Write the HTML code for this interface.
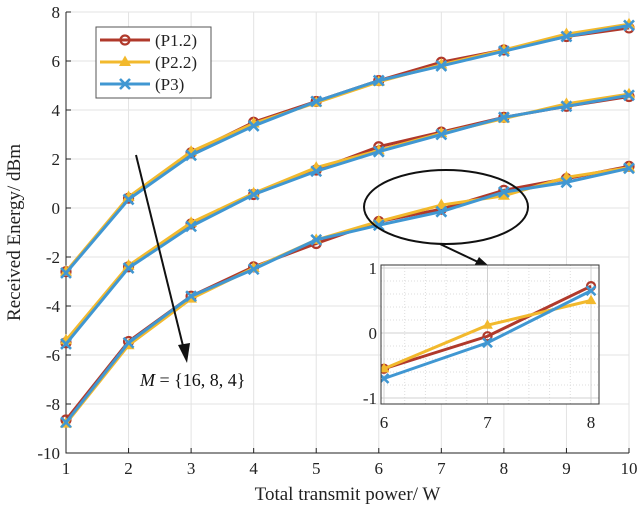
<!DOCTYPE html>
<html><head><meta charset="utf-8"><style>
body{margin:0;background:#fff}
svg{display:block;font-family:"Liberation Serif",serif}
</style></head><body>
<svg id="chart" width="640" height="512" viewBox="0 0 640 512"></svg>
<script>
const xs=[1,2,3,4,5,6,7,8,9,10];
const p12_m16=[-2.6,0.4,2.25,3.5,4.35,5.2,5.95,6.45,7.0,7.35];
const p22_m16=[-2.6,0.45,2.3,3.45,4.3,5.15,5.85,6.45,7.1,7.5];
const p3_m16=[-2.65,0.35,2.15,3.35,4.35,5.2,5.8,6.4,7.0,7.45];
const p12_m8=[-5.5,-2.4,-0.65,0.55,1.55,2.5,3.1,3.7,4.15,4.55];
const p22_m8=[-5.4,-2.35,-0.6,0.6,1.65,2.35,3.05,3.65,4.25,4.65];
const p3_m8=[-5.55,-2.45,-0.75,0.55,1.5,2.3,3.0,3.7,4.15,4.6];
const p12_m4=[-8.65,-5.45,-3.6,-2.4,-1.45,-0.55,-0.05,0.72,1.2,1.7];
const p22_m4=[-8.8,-5.6,-3.7,-2.45,-1.3,-0.55,0.12,0.5,1.25,1.65];
const p3_m4=[-8.75,-5.5,-3.6,-2.5,-1.3,-0.7,-0.15,0.65,1.05,1.62];
const yTicks=[-10,-8,-6,-4,-2,0,2,4,6,8];
const insetX=[6,7,8];
const insetYTicks=[-1,0,1];
const series=[
 {name:'p1-2',label:'(P1.2)',color:'#b0392b',marker:'o',data:[p12_m16,p12_m8,p12_m4]},
 {name:'p2-2',label:'(P2.2)',color:'#f2b92d',marker:'t',data:[p22_m16,p22_m8,p22_m4]},
 {name:'p3',label:'(P3)',color:'#4097d2',marker:'x',data:[p3_m16,p3_m8,p3_m4]}
];
const NS='http://www.w3.org/2000/svg';
const svg=document.getElementById('chart');
function el(t,a,p){const e=document.createElementNS(NS,t);for(const k in a)e.setAttribute(k,a[k]);(p||svg).appendChild(e);return e;}
const L=66,R=629,T=12,B=453;
const sx=v=>L+(v-1)/9*(R-L);
const sy=v=>B-(v+10)/18*(B-T);
for(const x of xs){const g=el('line',{x1:sx(x),x2:sx(x),y1:T,y2:B,stroke:'#e3e3e3','stroke-width':1});
}
for(const y of yTicks){const g=el('line',{x1:L,x2:R,y1:sy(y),y2:sy(y),stroke:'#e3e3e3','stroke-width':1});
}
const ax=el('path',{d:`M${L},${T}V${B}H${R}`,fill:'none',stroke:'#222','stroke-width':1});

for(const x of xs){el('line',{x1:sx(x),x2:sx(x),y1:B,y2:B-5,stroke:'#222'});
const t=el('text',{x:sx(x),y:B+21,'text-anchor':'middle','font-size':17,fill:'#222'});t.textContent=x;
}
for(const y of yTicks){el('line',{x1:L,x2:L+5,y1:sy(y),y2:sy(y),stroke:'#222'});
const t=el('text',{x:L-6,y:sy(y)+6,'text-anchor':'end','font-size':17,fill:'#222'});t.textContent=y;
}
const xt=el('text',{x:(L+R)/2,y:500,'text-anchor':'middle','font-size':19,fill:'#222'});xt.textContent='Total transmit power/ W';

const yt=el('text',{x:0,y:0,transform:`translate(20,${(T+B)/2}) rotate(-90)`,'text-anchor':'middle','font-size':19,fill:'#222'});yt.textContent='Received Energy/ dBm';

function marker(g,type,x,y,c,s){
 if(type==='o')el('circle',{cx:x,cy:y,r:s*0.9,fill:'none',stroke:c,'stroke-width':2.2},g);
 else if(type==='t')el('polygon',{points:`${x},${y-s*1.3} ${x-s*1.2},${y+s*0.8} ${x+s*1.2},${y+s*0.8}`,fill:c},g);
 else el('path',{d:`M${x-s},${y-s}L${x+s},${y+s}M${x-s},${y+s}L${x+s},${y-s}`,stroke:c,'stroke-width':2.6},g);
}
function drawSeries(parent,fx,fy,xv,filter,s,curves){
 for(const sr of series){for(let k=0;k<sr.data.length;k++){
  if(curves&&curves.indexOf(k)<0)continue;
  const d=sr.data[k];const pts=[];
  xv.forEach((x,i)=>{if(filter(x))pts.push([fx(x),fy(d[i])]);});
  if(!pts.length)continue;
  const g=el('g',{},parent);
  
  
  el('polyline',{points:pts.map(p=>p.join(',')).join(' '),fill:'none',stroke:sr.color,'stroke-width':3},g);
  pts.forEach(p=>marker(g,sr.marker,p[0],p[1],sr.color,s));
 }}
}
drawSeries(svg,sx,sy,xs,()=>true,5);
const lg=el('g',{});
el('rect',{x:96,y:27,width:115,height:71,fill:'#fff',stroke:'#555','stroke-width':1},lg);
series.forEach((sr,i)=>{const y=40+i*22;
 const e=el('g',{},lg);
 el('line',{x1:100,x2:150,y1:y,y2:y,stroke:sr.color,'stroke-width':3},e);
 marker(e,sr.marker,125,y,sr.color,5);
 const t=el('text',{x:155,y:y+6,'font-size':17,fill:'#222'},e);t.textContent=sr.label;});
const an=el('g',{});
el('line',{x1:136,y1:155,x2:184,y2:350,stroke:'#111','stroke-width':2},an);
el('polygon',{points:'187,363 178,345 190,343',fill:'#111'},an);
const mt=el('text',{x:140,y:386,'font-size':18,fill:'#111'},an);
mt.innerHTML='<tspan font-style="italic">M</tspan> = {16, 8, 4}';
const el2=el('g',{});
el('ellipse',{cx:446,cy:207,rx:82,ry:37,fill:'none',stroke:'#111','stroke-width':2},el2);
el('line',{x1:440,y1:244,x2:478,y2:262,stroke:'#111','stroke-width':2},el2);
el('polygon',{points:'490,267 474,266 479,257',fill:'#111'},el2);
const IL=381,IR=599,IT=265,IB=404;
const ix=v=>384+(v-6)/2*(591-384);
const iy=v=>333-v*65;
const defs=el('defs',{});
const cp=el('clipPath',{id:'insetClip'},defs);
el('rect',{x:IL,y:IT,width:IR-IL,height:IB-IT},cp);
const ins=el('g',{});
el('rect',{x:IL,y:IT,width:IR-IL,height:IB-IT,fill:'#fff'},ins);
for(let v=6;v<=8.001;v+=0.2)el('line',{x1:ix(v),x2:ix(v),y1:IT,y2:IB,stroke:'#ddd','stroke-dasharray':'1,2'},ins);
for(let v=-1;v<=1.001;v+=0.2)el('line',{x1:IL,x2:IR,y1:iy(v),y2:iy(v),stroke:'#ddd','stroke-dasharray':'1,2'},ins);
for(const v of insetX)el('line',{x1:ix(v),x2:ix(v),y1:IT,y2:IB,stroke:'#d0d0d0'},ins);
for(const v of insetYTicks)el('line',{x1:IL,x2:IR,y1:iy(v),y2:iy(v),stroke:'#d0d0d0'},ins);
const clipG=el('g',{'clip-path':'url(#insetClip)'},ins);
drawSeries(clipG,ix,iy,xs,x=>x>=6&&x<=8,4.5,[2]);
el('rect',{x:IL,y:IT,width:IR-IL,height:IB-IT,fill:'none',stroke:'#333'},ins);
for(const v of insetX){const t=el('text',{x:ix(v),y:IB+24,'text-anchor':'middle','font-size':17,fill:'#222'},ins);t.textContent=v;
}
for(const v of insetYTicks){const t=el('text',{x:IL-4,y:iy(v)+6,'text-anchor':'end','font-size':17,fill:'#222'},ins);t.textContent=v;
}
</script>
</body></html>
